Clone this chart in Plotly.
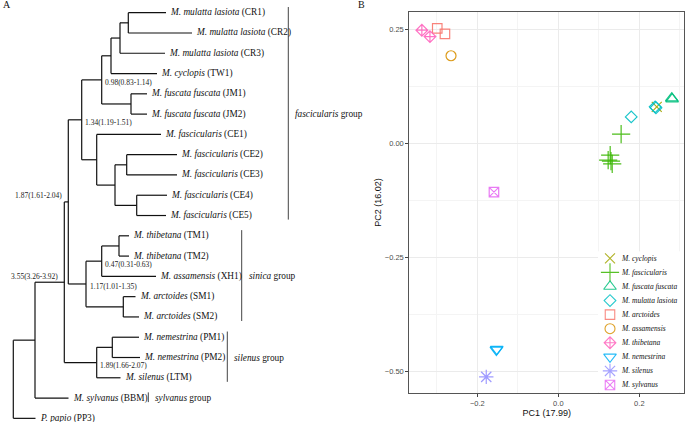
import plotly.graph_objects as go

# ---------------- panel A: dated tree ----------------
leaf_ids = ["CR1", "CR2", "CR3", "TW1", "JM1", "JM2", "CE1", "CE2", "CE3", "CE4", "CE5",
            "TM1", "TM2", "XH1", "SM1", "SM2", "PM1", "PM2", "LTM", "BBM", "PP3"]
leaf_taxa = (["M. mulatta lasiota"] * 3 + ["M. cyclopis"] + ["M. fuscata fuscata"] * 2
             + ["M. fascicularis"] * 5 + ["M. thibetana"] * 2 + ["M. assamensis"]
             + ["M. arctoides"] * 2 + ["M. nemestrina"] * 2
             + ["M. silenus", "M. sylvanus", "P. papio"])
leaf_depth = [166, 192, 165, 157, 147, 147, 161, 177, 177, 167, 166,
              129, 129, 156, 135.5, 139, 139, 140, 120.5, 68.5, 35.5]

node_ids = ["cr12", "cr123", "crtw", "jm", "rhe", "ce23", "ce45", "ce2345", "ce", "fasc",
            "tm", "tmxh", "sm", "sin", "fs", "pm", "sil", "fss", "mac", "root"]
node_children = [("CR1", "CR2"), ("cr12", "CR3"), ("cr123", "TW1"), ("JM1", "JM2"),
                 ("crtw", "jm"), ("CE2", "CE3"), ("CE4", "CE5"), ("ce23", "ce45"),
                 ("CE1", "ce2345"), ("rhe", "ce"), ("TM1", "TM2"), ("tm", "XH1"),
                 ("SM1", "SM2"), ("tmxh", "sm"), ("fasc", "sin"), ("PM1", "PM2"),
                 ("pm", "LTM"), ("fs", "sil"), ("fss", "BBM"), ("mac", "PP3")]
node_depth = [128.3, 120, 111, 131, 101.7, 126.7, 136.7, 115, 96.7, 81.7,
              119, 101.7, 123.3, 86, 68.3, 112.3, 96.7, 64.3, 35, 13.3]

age_nodes = ["rhe", "fasc", "tmxh", "sin", "sil", "fs", "fss"]
age_text = ["0.98(0.83-1.14)", "1.34(1.19-1.51)", "0.47(0.31-0.63)", "1.17(1.01-1.35)",
            "1.89(1.66-2.07)", "1.87(1.61-2.04)", "3.55(3.26-3.92)"]

group_names = ["fascicularis", "sinica", "silenus", "sylvanus"]
group_first = ["CR1", "TM1", "PM1", "BBM"]
group_last = ["CE5", "SM2", "LTM", "BBM"]

# ---------------- panel B: PCA ----------------
species = ["M. cyclopis", "M. fascicularis", "M. fuscata fuscata", "M. mulatta lasiota",
           "M. arctoides", "M. assamensis", "M. thibetana", "M. nemestrina",
           "M. silenus", "M. sylvanus"]
sample_species = (["M. cyclopis"] + ["M. fascicularis"] * 5 + ["M. fuscata fuscata"] * 2
                  + ["M. mulatta lasiota"] * 3 + ["M. arctoides"] * 2 + ["M. assamensis"]
                  + ["M. thibetana"] * 2 + ["M. nemestrina"] * 2
                  + ["M. silenus", "M. sylvanus"])
sample_pc1 = [0.243, 0.155, 0.128, 0.123, 0.130, 0.133, 0.280, 0.281,
              0.180, 0.239, 0.241, -0.299, -0.280, -0.265, -0.337, -0.317,
              -0.153, -0.152, -0.178, -0.159]
sample_pc2 = [0.080, 0.020, -0.026, -0.037, -0.039, -0.045, 0.099, 0.097,
              0.058, 0.080, 0.078, 0.252, 0.240, 0.192, 0.248, 0.234,
              -0.453, -0.451, -0.512, -0.107]

# ---------------- styles ----------------
W, H = 685, 422
SERIF = "Liberation Serif"
SANS = "Liberation Sans"

sp_color = {"M. arctoides": "#F8766D", "M. assamensis": "#D89000", "M. cyclopis": "#A3A500",
            "M. fascicularis": "#39B600", "M. fuscata fuscata": "#00BF7D",
            "M. mulatta lasiota": "#00BFC4", "M. nemestrina": "#00B0F6",
            "M. silenus": "#9590FF", "M. sylvanus": "#E76BF3", "M. thibetana": "#FF62BC"}
sp_symbol = {"M. cyclopis": "x-thin-open", "M. fascicularis": "cross-thin-open",
             "M. fuscata fuscata": "triangle-up-open", "M. mulatta lasiota": "diamond-open",
             "M. arctoides": "square-open", "M. assamensis": "circle-open",
             "M. thibetana": "diamond-cross-open", "M. nemestrina": "triangle-down-open",
             "M. silenus": "asterisk-open", "M. sylvanus": "square-x-open"}
sp_size = {"M. cyclopis": 10, "M. fascicularis": 13, "M. fuscata fuscata": 11,
           "M. mulatta lasiota": 9, "M. arctoides": 9.5, "M. assamensis": 10,
           "M. thibetana": 9, "M. nemestrina": 11, "M. silenus": 12, "M. sylvanus": 9.5}

# tree geometry
depth = dict(zip(leaf_ids, leaf_depth))
depth.update(zip(node_ids, node_depth))
ypos = {leaf: i for i, leaf in enumerate(leaf_ids)}
children = dict(zip(node_ids, node_children))
for n in node_ids:
    a, b = children[n]
    ypos[n] = (ypos[a] + ypos[b]) / 2

tx, ty = [], []
for n in node_ids:
    a, b = children[n]
    tx += [depth[n], depth[n], None]
    ty += [ypos[a], ypos[b], None]
    for c in (a, b):
        tx += [depth[n], depth[c], None]
        ty += [ypos[c], ypos[c], None]

fig = go.Figure()

fig.add_trace(go.Scatter(x=tx, y=ty, mode="lines", xaxis="x2", yaxis="y2",
                         line=dict(color="#111", width=1.2), hoverinfo="skip",
                         showlegend=False))

# group bars
group_bar_x = [288.3, 241.7, 227.3, 148.3]
gx, gy = [], []
for bx, f, l in zip(group_bar_x, group_first, group_last):
    gx += [bx, bx, None]
    gy += [ypos[f] - 0.28, ypos[l] + 0.2, None]
fig.add_trace(go.Scatter(x=gx, y=gy, mode="lines", xaxis="x2", yaxis="y2",
                         line=dict(color="#444", width=1), hoverinfo="skip",
                         showlegend=False))

annotations = []
for lid, taxon in zip(leaf_ids, leaf_taxa):
    annotations.append(dict(x=depth[lid] + 2.2, y=ypos[lid], xref="x2", yref="y2",
                            text=f"<i>{taxon}</i> ({lid})", showarrow=False,
                            xanchor="left", yanchor="middle",
                            font=dict(family=SERIF, size=9.3, color="#111")))
for g, bx, f, l in zip(group_names, group_bar_x, group_first, group_last):
    annotations.append(dict(x=bx + 5, y=(ypos[f] + ypos[l]) / 2, xref="x2", yref="y2",
                            text=f"<i>{g}</i> group", showarrow=False,
                            xanchor="left", yanchor="middle",
                            font=dict(family=SERIF, size=9.3, color="#111")))
for n, t in zip(age_nodes, age_text):
    if n in ("fs", "fss"):
        annotations.append(dict(x=depth[n] - 4.5, y=ypos[n] - 0.3, xref="x2", yref="y2",
                                text=t, showarrow=False, xanchor="right", yanchor="middle",
                                font=dict(family=SERIF, size=7.5, color="#222")))
    else:
        annotations.append(dict(x=depth[n] + 1.5, y=ypos[n] + 0.14, xref="x2", yref="y2",
                                text=t, showarrow=False, xanchor="left", yanchor="middle",
                                font=dict(family=SERIF, size=7.5, color="#222")))

annotations.append(dict(x=0.5 / W, y=1 - 5 / H, xref="paper", yref="paper", text="A",
                        showarrow=False, xanchor="left", yanchor="middle",
                        font=dict(family=SERIF, size=10, color="#111")))
annotations.append(dict(x=356 / W, y=1 - 5 / H, xref="paper", yref="paper", text="B",
                        showarrow=False, xanchor="left", yanchor="middle",
                        font=dict(family=SERIF, size=10, color="#111")))

# PCA points
for sp in species:
    xs = [x for x, s in zip(sample_pc1, sample_species) if s == sp]
    ys = [y for y, s in zip(sample_pc2, sample_species) if s == sp]
    c = sp_color[sp]
    fig.add_trace(go.Scatter(x=xs, y=ys, mode="markers", name=sp, showlegend=False,
                             marker=dict(symbol=sp_symbol[sp], size=sp_size[sp], color=c,
                                         opacity=0.9, line=dict(color=c, width=1.2))))

# legend keys (drawn on their own small axis)
for i, sp in enumerate(species):
    c = sp_color[sp]
    fig.add_trace(go.Scatter(x=[0], y=[i], mode="markers", xaxis="x3", yaxis="y3",
                             showlegend=False, hoverinfo="skip",
                             marker=dict(symbol=sp_symbol[sp], size=sp_size[sp],
                                         color=c, opacity=0.85, line=dict(color=c, width=1.1))))
    annotations.append(dict(x=0.8, y=i, xref="x3", yref="y3", text=f"<i>{sp}</i>",
                            showarrow=False, xanchor="left", yanchor="middle",
                            font=dict(family=SERIF, size=7.5, color="#111")))

fig.update_layout(
    width=W, height=H,
    margin=dict(l=0, r=0, t=0, b=0),
    paper_bgcolor="white", plot_bgcolor="white",
    showlegend=False,
    annotations=annotations,
    xaxis=dict(domain=[409.3 / W, 684.3 / W], range=[-0.368, 0.311],
               tickvals=[-0.2, 0.0, 0.2], tickformat=".1f",
               showgrid=True, gridcolor="#ebebeb", gridwidth=1,
               minor=dict(tickvals=[-0.3, -0.1, 0.1, 0.3], showgrid=True,
                          gridcolor="#f4f4f4", gridwidth=0.6),
               zeroline=False, showline=True, mirror=True, linecolor="#555", linewidth=1,
               ticks="outside", ticklen=3, tickcolor="#444",
               tickfont=dict(family=SANS, size=7.5, color="#4d4d4d"),
               title=dict(text="PC1 (17.99)", standoff=1,
                          font=dict(family=SANS, size=9, color="#111"))),
    yaxis=dict(domain=[1 - 393.3 / H, 1 - 11.7 / H], range=[-0.548, 0.2886],
               tickvals=[-0.5, -0.25, 0.0, 0.25], tickformat=".2f",
               showgrid=True, gridcolor="#ebebeb", gridwidth=1,
               minor=dict(tickvals=[-0.375, -0.125, 0.125], showgrid=True,
                          gridcolor="#f4f4f4", gridwidth=0.6),
               zeroline=False, showline=True, mirror=True, linecolor="#555", linewidth=1,
               ticks="outside", ticklen=3, tickcolor="#444",
               tickfont=dict(family=SANS, size=7.5, color="#4d4d4d"),
               title=dict(text="PC2 (16.02)", standoff=1,
                          font=dict(family=SANS, size=9, color="#111"))),
    xaxis2=dict(domain=[0, 376 / W], range=[0, 376], visible=False, fixedrange=True),
    yaxis2=dict(domain=[0, 1], range=[20.18, -0.626], visible=False, fixedrange=True),
    xaxis3=dict(domain=[598 / W, 684 / W], range=[-12 / 11.7, 74 / 11.7], visible=False),
    yaxis3=dict(domain=[1 - 392 / H, 1 - 251.3 / H], range=[9.5, -0.5], visible=False),
)

# the page's default body margin would shift the 685x422 figure; remove it
fig.write_html("out.html", config={"displayModeBar": False},
               post_script="document.body.style.margin='0';")
